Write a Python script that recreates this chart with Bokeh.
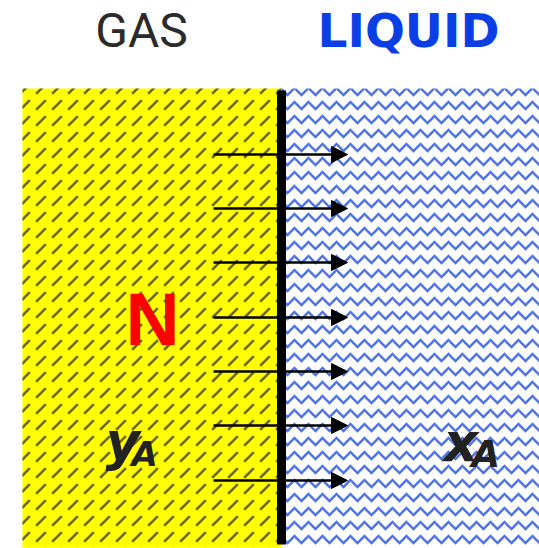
from bokeh.plotting import figure
from bokeh.models import Range1d, Arrow, NormalHead
from bokeh.core.properties import value
from bokeh.embed import file_html
from bokeh.resources import INLINE

# --- diagram data (pixel-like data coordinates) ---
region_names = ["GAS", "LIQUID"]
region_left = [22, 281]
region_right = [281, 539]
region_top = [88, 88]
region_bottom = [547, 548]

interface_x = [281]
interface_top = [90]
interface_bottom = [544]

arrow_y = [154, 208, 262, 317, 371, 425, 480]
arrow_x_start = [213] * 7
arrow_x_end = [347] * 7

title_labels = ["GAS", "LIQUID"]
title_x = [141, 408]

BASE_SHIFT = 0.37  # compensation of svg text baseline, as fraction of font size


def base(y, size):
    return y - BASE_SHIFT * size


p = figure(width=539, height=548, output_backend="svg", toolbar_location=None,
           x_range=Range1d(0, 539), y_range=Range1d(548, 0),
           min_border=0, outline_line_color=None)
p.axis.visible = False
p.grid.visible = False
p.background_fill_color = "white"
p.border_fill_color = "white"

# gas region
p.quad(left=[region_left[0]], right=[region_right[0]], top=[region_top[0]], bottom=[region_bottom[0]],
       fill_color="#ffff00", line_color=None,
       hatch_pattern="right_diagonal_dash", hatch_color="#2a2a10", hatch_alpha=0.7,
       hatch_scale=16, hatch_weight=2.5)
# liquid region
p.quad(left=[region_left[1]], right=[region_right[1]], top=[region_top[1]], bottom=[region_bottom[1]],
       fill_color="white", line_color=None,
       hatch_pattern="horizontal_wave", hatch_color="#1e50e0", hatch_alpha=0.8,
       hatch_scale=14, hatch_weight=2.4)

# interface
p.segment(x0=interface_x, x1=interface_x, y0=interface_top, y1=interface_bottom,
          line_color="black", line_width=9)

# flux arrows
for y, xs, xe in zip(arrow_y, arrow_x_start, arrow_x_end):
    p.add_layout(Arrow(end=NormalHead(size=16, fill_color="black", line_color="black", line_width=1),
                       x_start=xs, y_start=y, x_end=xe, y_end=y,
                       line_color="black", line_width=2.5))

# titles
p.text(x=[title_x[0]], y=[30], text=[title_labels[0]], text_align="center",
       text_baseline="middle", text_font=value("Roboto"), text_font_size="48px",
       text_color="#2b2b2b")
p.text(x=[title_x[1]], y=[30], text=[title_labels[1]], text_align="center",
       text_baseline="middle", text_font=value("DejaVu Sans"), text_font_size="47px",
       text_font_style="bold", text_color="#0a3fe6")

# N
p.text(x=[152], y=[base(346, 75)], text=["N"], text_align="center", text_baseline="alphabetic",
       text_font=value("Liberation Sans"), text_font_size="75px", text_font_style="bold",
       text_color="#ff0000")

# y_A
p.text(x=[105], y=[base(461, 53)], text=["y"], text_align="left", text_baseline="alphabetic",
       text_font=value("DejaVu Sans"), text_font_size="53px", text_font_style="bold italic",
       text_color="#222222")
p.text(x=[131], y=[base(466, 34)], text=["A"], text_align="left", text_baseline="alphabetic",
       text_font=value("DejaVu Sans"), text_font_size="34px", text_font_style="bold italic",
       text_color="#222222")
# x_A
p.text(x=[443], y=[base(462, 54)], text=["x"], text_align="left", text_baseline="alphabetic",
       text_font=value("DejaVu Sans"), text_font_size="54px", text_font_style="bold italic",
       text_color="#222222")
p.text(x=[471], y=[base(468, 37)], text=["A"], text_align="left", text_baseline="alphabetic",
       text_font=value("DejaVu Sans"), text_font_size="37px", text_font_style="bold italic",
       text_color="#222222")

open("out.html", "w").write(file_html(p, INLINE))
